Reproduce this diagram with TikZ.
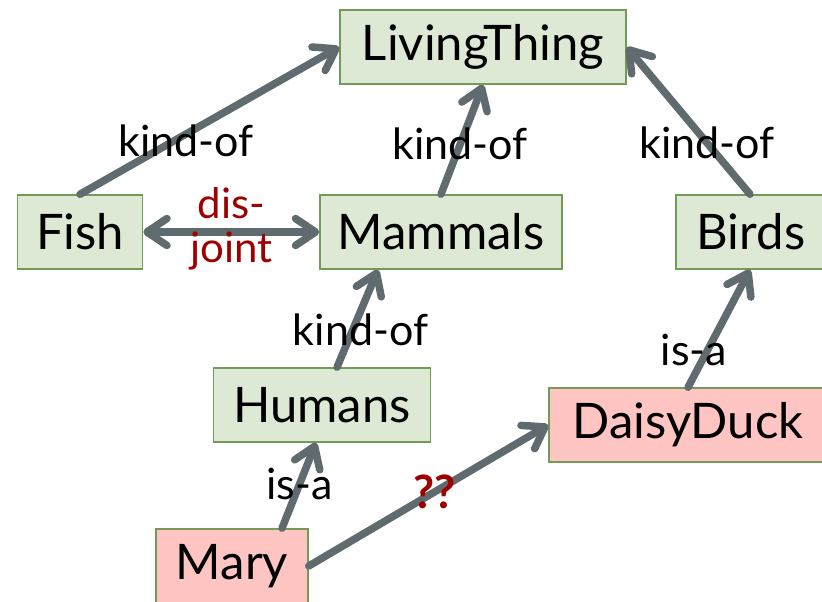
\documentclass[tikz,border=0pt]{standalone}
\usepackage{fontspec}
\setmainfont{Lato}
\usetikzlibrary{arrows.meta,positioning}
\definecolor{ontoFill}{HTML}{DDE9D5}
\definecolor{ontoDraw}{HTML}{739A56}
\definecolor{indFill}{HTML}{FFC5C3}
\definecolor{relLine}{HTML}{5F6B6F}
\definecolor{relRed}{HTML}{9E0000}
\tikzset{
  concept/.style={
    draw=ontoDraw, fill=ontoFill, line width=1.5pt, minimum height=74pt,
    inner sep=0pt, font=\fontsize{49}{52}\selectfont
  },
  instance/.style={concept, fill=indFill},
  rel/.style={-{Straight Barb[length=20pt, width=27pt, round]}, line width=7.5pt, relLine, line cap=round},
  biRel/.style={{Straight Barb[length=20pt, width=27pt, round]}-{Straight Barb[length=20pt, width=27pt, round]}, line width=7.5pt, relLine, line cap=round},
  relTag/.style={font=\fontsize{43}{46}\selectfont, text=black, inner sep=0pt},
  redTag/.style={font=\fontsize{42}{44}\selectfont, text=relRed, inner sep=0pt, align=center}
}
\begin{document}
\begin{tikzpicture}[x=1pt, y=-1pt]
  \useasboundingbox (0,0) rectangle (822,602);
  % classes
  \node[concept, minimum width=286pt] (living) at (483,47) {LivingThing};
  \node[concept, minimum width=125pt] (fish) at (80,232) {Fish};
  \node[concept, minimum width=242pt] (mammals) at (441,232) {Mammals};
  \node[concept, minimum width=150pt] (birds) at (751,232) {Birds};
  \node[concept, minimum width=217pt] (humans) at (322,405) {Humans};
  % individuals
  \node[instance, minimum width=278pt] (daisy) at (688,425) {DaisyDuck};
  \node[instance, minimum width=152pt] (mary) at (232,566) {Mary};
  % relations
  \draw[rel] (fish.north) -- (living.west)
    node[relTag, pos=0.41, yshift=-7pt] (k1) {kind-of};
  \draw[rel] (mammals.north) -- (living.south)
    node[relTag, pos=0.46] (k2) {kind-of};
  \draw[rel] ([xshift=-1pt]birds.north) -- (living.east)
    node[relTag, pos=0.35] (k3) {kind-of};
  \draw[biRel] (fish.east) -- (mammals.west)
    node[redTag, midway, yshift=3pt] (dj) {dis-\\joint};
  \draw[rel] ([xshift=15pt]humans.north) -- ([xshift=-63pt]mammals.south)
    node[relTag, pos=0.38, xshift=8pt] (k4) {kind-of};
  \draw[rel] ([xshift=50pt]mary.north) -- ([xshift=-6pt]humans.south)
    node[relTag, pos=0.52] (i1) {is-a};
  \draw[rel] (mary.east) -- (daisy.west)
    node[redTag, pos=0.525, font=\fontsize{46}{48}\selectfont\bfseries] (qq) {??};
  \draw[rel] (daisy.north) -- ([xshift=-1pt]birds.south)
    node[relTag, pos=0.32, xshift=-14pt] (i2) {is-a};
\end{tikzpicture}
\end{document}
